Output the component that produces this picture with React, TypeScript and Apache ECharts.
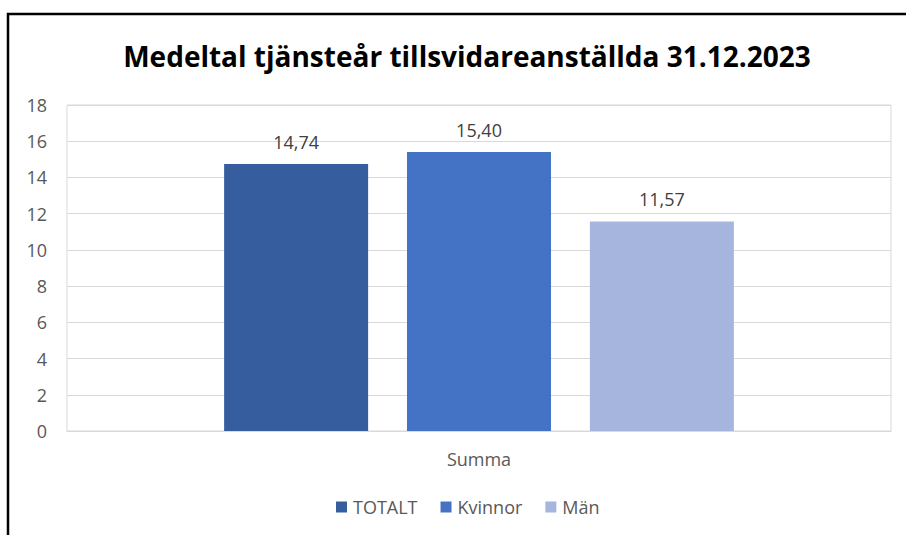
import React, { useEffect, useRef } from "react";
import * as echarts from "echarts";

const titleText = "Medeltal tjänsteår tillsvidareanställda 31.12.2023";
const categories = ["Summa"];
const seriesNames = ["TOTALT", "Kvinnor", "Män"];
const totaltValues = [14.74];
const kvinnorValues = [15.4];
const manValues = [11.57];
const seriesColors = ["#365E9F", "#4472C4", "#A5B5DE"];
const yTicks = { min: 0, max: 18, interval: 2 };

export default function App() {
  const ref = useRef<HTMLDivElement>(null);
  useEffect(() => {
    if (!ref.current) return;
    const chart = echarts.init(ref.current, null, { renderer: "svg" });
    const font = "'Open Sans', sans-serif";
    const valuesList = [totaltValues, kvinnorValues, manValues];
    chart.setOption({
      animation: false,
      backgroundColor: "#ffffff",
      title: {
        text: titleText,
        left: 462,
        top: 37,
        textAlign: "center",
        textStyle: { fontFamily: font, fontWeight: "bold", fontSize: 28, color: "#000000" },
      },
      graphic: [
        {
          type: "rect",
          shape: { x: 8, y: 14, width: 2000, height: 2000 },
          style: { fill: "none", stroke: "#000000", lineWidth: 2.5 },
          silent: true,
        },
      ],
      legend: {
        data: seriesNames,
        left: 331,
        top: 493,
        itemWidth: 11,
        itemHeight: 11,
        itemGap: 23,
        icon: "rect",
        textStyle: { fontFamily: font, fontSize: 18, color: "#595959", padding: [0, 0, 0, 1] },
      },
      grid: {
        left: 67,
        top: 105,
        right: 15,
        bottom: 104,
        show: true,
        borderColor: "#D9D9D9",
        borderWidth: 1,
      },
      xAxis: {
        type: "category",
        data: categories,
        axisLine: { show: true, lineStyle: { color: "#D9D9D9", width: 1 } },
        axisTick: { show: false },
        axisLabel: { fontFamily: font, fontSize: 18, color: "#595959", margin: 19 },
      },
      yAxis: {
        type: "value",
        min: yTicks.min,
        max: yTicks.max,
        interval: yTicks.interval,
        axisLine: { show: false },
        axisTick: { show: false },
        splitLine: { lineStyle: { color: "#D9D9D9", width: 1 } },
        axisLabel: { fontFamily: font, fontSize: 18, color: "#595959", margin: 20 },
      },
      series: seriesNames.map((name, i) => ({
        name,
        type: "bar",
        data: valuesList[i],
        barWidth: 144,
        barGap: "27%",
        itemStyle: { color: seriesColors[i] },
        label: {
          show: true,
          position: "top",
          distance: 13,
          fontFamily: font,
          fontSize: 18,
          color: "#404040",
          formatter: (p: any) => Number(p.value).toFixed(2).replace(".", ","),
        },
      })),
    });
    return () => chart.dispose();
  }, []);
  return (
    <div
      ref={ref}
      style={{ position: "absolute", left: 0, top: 0, width: 906, height: 535 }}
    />
  );
}
